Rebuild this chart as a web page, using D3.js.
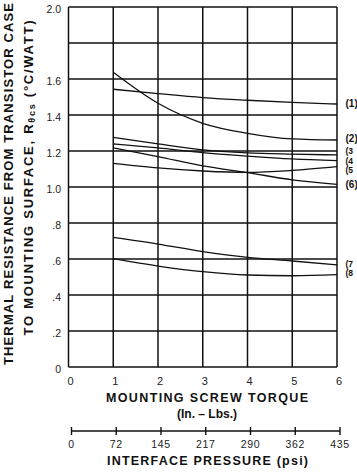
<!DOCTYPE html>
<html><head><meta charset="utf-8">
<script src="https://cdn.jsdelivr.net/npm/d3@7"></script>
<style>
html,body{margin:0;padding:0;background:#fff;}
svg{display:block;font-family:"Liberation Sans",Arial,Helvetica,sans-serif;}
</style></head>
<body>
<script>
// ---- data ----
const torque = [1, 2, 3, 4, 5, 6];
const curveLabels = ["(1)", "(2)", "(3", "(4", "(5", "(6)", "(7", "(8"];
const curve1 = [1.543, 1.519, 1.497, 1.482, 1.470, 1.461];
const curve2 = [1.637, 1.465, 1.354, 1.298, 1.267, 1.261];
const curve3 = [1.276, 1.239, 1.206, 1.190, 1.183, 1.178];
const curve4 = [1.239, 1.217, 1.191, 1.172, 1.156, 1.146];
const curve5 = [1.131, 1.106, 1.089, 1.081, 1.092, 1.113];
const curve6 = [1.217, 1.169, 1.117, 1.080, 1.040, 1.015];
const curve7 = [0.720, 0.683, 0.641, 0.609, 0.589, 0.567];
const curve8 = [0.602, 0.561, 0.530, 0.511, 0.507, 0.513];
const labelYValues = [1.462, 1.27, 1.2, 1.147, 1.094, 1.014, 0.571, 0.521];

const torqueTicks = [0, 1, 2, 3, 4, 5, 6];
const resistanceTicks = [0, 0.2, 0.4, 0.6, 0.8, 1.0, 1.2, 1.4, 1.6, 1.8, 2.0];
const resistanceTickLabels = ["0", ".2", ".4", ".6", ".8", "1.0", "1.2", "1.4", "1.6", "", "2.0"];
const pressureTicks = [0, 72.5, 145, 217.5, 290, 362.5, 435];
const pressureTickLabels = ["0", "72", "145", "217", "290", "362", "435"];

const series = [curve1, curve2, curve3, curve4, curve5, curve6, curve7, curve8];

// ---- layout ----
const W = 357, H = 472;
const svg = d3.select("body").append("svg").attr("width", W).attr("height", H);

const x = d3.scaleLinear().domain([0, 6]).range([68.5, 337]);
const y = d3.scaleLinear().domain([0, 2]).range([367, 7]);
const xp = d3.scaleLinear().domain([0, 435]).range([71.5, 340]);

const ink = "#111";

// grid
const g = svg.append("g");
g.selectAll("line.h").data(resistanceTicks).enter().append("line")
  .attr("x1", x(0)).attr("x2", x(6))
  .attr("y1", d => y(d)).attr("y2", d => y(d))
  .attr("stroke", ink).attr("stroke-width", 1.4);
g.selectAll("line.v").data(torqueTicks).enter().append("line")
  .attr("y1", y(0)).attr("y2", y(2))
  .attr("x1", d => x(d)).attr("x2", d => x(d))
  .attr("stroke", ink).attr("stroke-width", 1.5);

// curves
const line = d3.line().x((d, i) => x(torque[i])).y(d => y(d)).curve(d3.curveMonotoneX);
svg.selectAll("path.c").data(series).enter().append("path")
  .attr("d", d => line(d))
  .attr("fill", "none").attr("stroke", ink).attr("stroke-width", 1.3);

// curve labels
svg.selectAll("text.cl").data(curveLabels).enter().append("text")
  .attr("x", 345.5)
  .attr("y", (d, i) => y(labelYValues[i]))
  .attr("dy", "0.35em")
  .attr("font-size", (d, i) => (i >= 2 && i <= 4) || i >= 6 ? 8.5 : 10)
  .attr("font-weight", "bold")
  .attr("fill", ink)
  .text(d => d);

// y tick labels
svg.selectAll("text.yt").data(resistanceTicks).enter().append("text")
  .attr("x", 61).attr("y", d => y(d) + 6)
  .attr("text-anchor", "end").attr("font-size", 10.5).attr("fill", "#222")
  .text((d, i) => resistanceTickLabels[i]);

// x tick labels
svg.selectAll("text.xt").data(torqueTicks).enter().append("text")
  .attr("x", d => x(d) + 2).attr("y", 385)
  .attr("text-anchor", "middle").attr("font-size", 11).attr("fill", "#222")
  .text(d => d);

// x axis titles
svg.append("text").attr("x", 207).attr("y", 402).attr("text-anchor", "middle")
  .attr("font-size", 12.5).attr("font-weight", "bold").attr("fill", ink)
  .attr("textLength", 202).attr("lengthAdjust", "spacing")
  .text("MOUNTING SCREW TORQUE");
svg.append("text").attr("x", 207).attr("y", 418).attr("text-anchor", "middle")
  .attr("font-size", 12).attr("font-weight", "bold").attr("fill", ink)
  .text("(In. \u2013 Lbs.)");

// second axis (pressure)
const pa = svg.append("g");
pa.append("line").attr("x1", xp(0)).attr("x2", xp(435)).attr("y1", 431).attr("y2", 431)
  .attr("stroke", ink).attr("stroke-width", 1.4);
pa.selectAll("line.t").data(pressureTicks).enter().append("line")
  .attr("x1", d => xp(d)).attr("x2", d => xp(d)).attr("y1", 427).attr("y2", 435)
  .attr("stroke", ink).attr("stroke-width", 1.4);
pa.selectAll("text").data(pressureTicks).enter().append("text")
  .attr("x", d => xp(d)).attr("y", 447.5)
  .attr("text-anchor", "middle").attr("font-size", 10.5).attr("fill", "#222")
  .attr("letter-spacing", 0.6)
  .text((d, i) => pressureTickLabels[i]);
svg.append("text").attr("x", 207.5).attr("y", 465).attr("text-anchor", "middle")
  .attr("font-size", 12.5).attr("font-weight", "bold").attr("fill", ink)
  .attr("textLength", 201).attr("lengthAdjust", "spacing")
  .text("INTERFACE PRESSURE (psi)");

// y axis title (two lines)
svg.append("text")
  .attr("transform", "translate(12.5," + 184 + ") rotate(-90)")
  .attr("text-anchor", "middle").attr("font-size", 13).attr("font-weight", "bold").attr("fill", ink)
  .attr("textLength", 362).attr("lengthAdjust", "spacing")
  .text("THERMAL RESISTANCE FROM TRANSISTOR CASE");
const yt2 = svg.append("text")
  .attr("transform", "translate(33," + 178 + ") rotate(-90)")
  .attr("text-anchor", "middle").attr("font-size", 13).attr("font-weight", "bold").attr("fill", ink)
  .attr("textLength", 315).attr("lengthAdjust", "spacing");
yt2.append("tspan").text("TO MOUNTING SURFACE, R");
yt2.append("tspan").attr("font-size", 9).attr("dy", 2).text("\u03B8cs");
yt2.append("tspan").attr("dy", -2).text(" (\u00B0C/WATT)");
</script>
</body></html>
